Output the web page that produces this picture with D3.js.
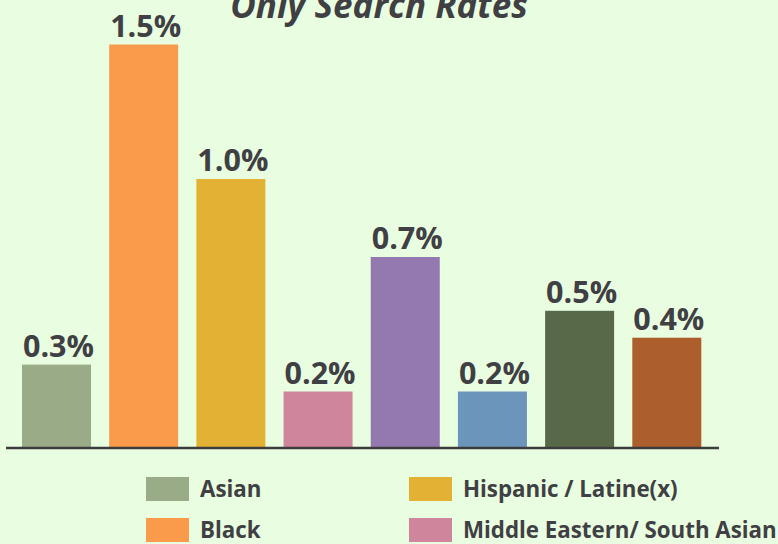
<!DOCTYPE html>
<html>
<head>
<meta charset="utf-8">
<script src="https://cdn.jsdelivr.net/npm/d3@7"></script>
<style>
  html, body { margin: 0; padding: 0; background: #e9fde0; }
  svg { display: block; }
</style>
</head>
<body>
<div id="chart"></div>
<script>
// 数据
const groups = ['Asian', 'Black', 'Hispanic / Latine(x)', 'Middle Eastern/ South Asian',
  'Multiracial', 'Native American', 'Pacific Islander', 'White'];
const rates = [0.31, 1.5, 1.0, 0.21, 0.71, 0.21, 0.51, 0.41];
const colors = ['#9aab88', '#f99b4a', '#e3b235', '#cf859b', '#9479b0', '#6b95ba', '#58694a', '#ad5e2d'];
const legendItems = ['Asian', 'Black', 'Hispanic / Latine(x)', 'Middle Eastern/ South Asian'];
const legendColors = ['#9aab88', '#f99b4a', '#e3b235', '#cf859b'];
const title = 'Only Search Rates';

const width = 778, height = 544;
const textColor = '#3f3f44';

const svg = d3.select('#chart')
  .append('svg')
  .attr('width', width)
  .attr('height', height);

svg.append('rect')
  .attr('width', width)
  .attr('height', height)
  .attr('fill', '#e9fde0');

// 比例尺
const x = d3.scaleBand()
  .domain(groups)
  .range([22, 701.3])
  .paddingInner(0.2086)
  .paddingOuter(0);

const y = d3.scaleLinear()
  .domain([0, 1.5])
  .range([448, 44.5]);

// 标题（顶部被裁切，与原图一致）
svg.append('text')
  .attr('x', 379)
  .attr('y', 18)
  .attr('text-anchor', 'middle')
  .attr('font-family', 'Open Sans, sans-serif')
  .attr('font-weight', 700)
  .attr('font-style', 'italic')
  .attr('font-size', 35)
  .attr('fill', textColor)
  .text(title);

// 柱子
svg.append('g')
  .selectAll('rect')
  .data(groups)
  .enter()
  .append('rect')
  .attr('x', d => x(d))
  .attr('y', (d, i) => y(rates[i]))
  .attr('width', x.bandwidth())
  .attr('height', (d, i) => y(0) - y(rates[i]))
  .attr('fill', (d, i) => colors[i]);

// 数值标签
svg.append('g')
  .selectAll('text')
  .data(groups)
  .enter()
  .append('text')
  .attr('x', d => x(d) + x.bandwidth() / 2 + 2)
  .attr('y', (d, i) => y(rates[i]) - 8)
  .attr('text-anchor', 'middle')
  .attr('font-family', 'Open Sans, sans-serif')
  .attr('font-weight', 700)
  .attr('font-size', 30.5)
  .attr('fill', textColor)
  .text((d, i) => d3.format('.1f')(rates[i]) + '%');

// 基线
svg.append('line')
  .attr('x1', 6)
  .attr('x2', 719)
  .attr('y1', y(0))
  .attr('y2', y(0))
  .attr('stroke', '#3d3d3d')
  .attr('stroke-width', 2.5);

// 图例
const legendX = [146, 409];
const legendY = [477, 518];
const legend = svg.append('g')
  .selectAll('g')
  .data(legendItems)
  .enter()
  .append('g')
  .attr('transform', (d, i) => `translate(${legendX[Math.floor(i / 2)]},${legendY[i % 2]})`);

legend.append('rect')
  .attr('width', 43)
  .attr('height', 24)
  .attr('fill', (d, i) => legendColors[i]);

legend.append('text')
  .attr('x', 54)
  .attr('y', 20)
  .attr('font-family', 'Open Sans, sans-serif')
  .attr('font-weight', 700)
  .attr('font-size', 22.3)
  .attr('fill', textColor)
  .text(d => d);
</script>
</body>
</html>
